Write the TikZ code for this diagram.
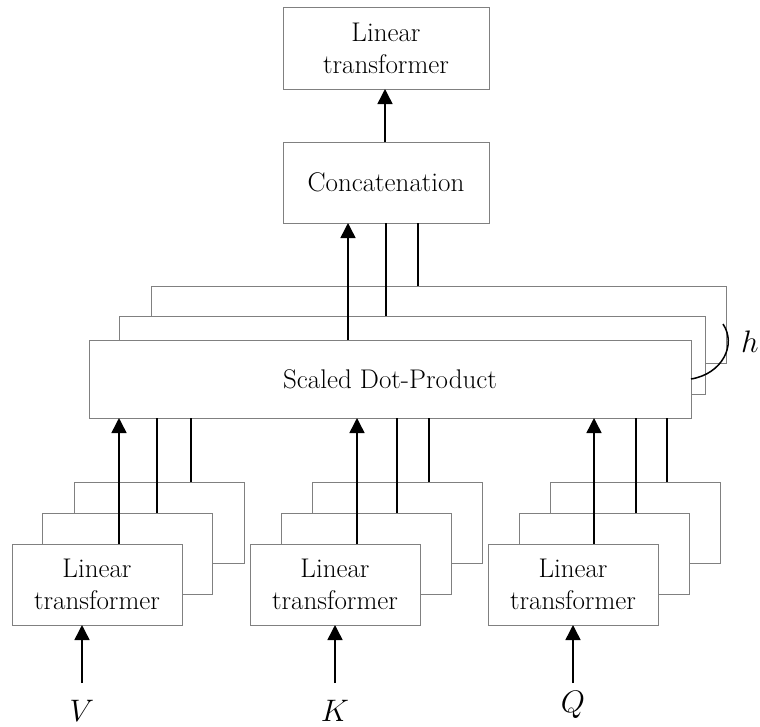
\documentclass[tikz,border=0pt]{standalone}
\usepackage{graphicx}
\usetikzlibrary{arrows.meta}
\newcommand{\biglbl}[1]{\scalebox{1.25}{$#1$}}
\begin{document}
\begin{tikzpicture}[x=1pt,y=-1pt,
  box/.style={draw=black!50,line width=1pt,fill=white,rectangle,inner sep=0pt,outer sep=0pt,anchor=north west,align=center,font=\fontsize{27}{32}\selectfont},
  ltbox/.style={box,minimum width=170pt,minimum height=81pt},
  conn/.style={line width=1.5pt,black},
  arr/.style={conn,-{Triangle[width=15pt,length=15pt]}},
  lbl/.style={anchor=base,font=\fontsize{24.88}{26}\selectfont}]
\useasboundingbox (0,0) rectangle (760,726);
% top boxes
\node[box,minimum width=206pt,minimum height=82pt] (top) at (283,7) {Linear\\transformer};
\node[box,minimum width=206pt,minimum height=81pt] (cat) at (283,142) {Concatenation};
% scaled dot-product stack
\node[box,minimum width=575pt,minimum height=77pt] (s3) at (151,286) {};
\node[box,minimum width=586pt,minimum height=78pt] (s2) at (119,316) {};
\node[box,minimum width=602pt,minimum height=78pt] (s1) at (89,340) {Scaled Dot-Product};
% V stack
\node[ltbox] (v3) at (74,482) {};
\node[ltbox] (v2) at (42,513) {};
\node[ltbox] (v1) at (12,544) {Linear\\transformer};
% K stack
\node[ltbox] (k3) at (312,482) {};
\node[ltbox] (k2) at (281,513) {};
\node[ltbox] (k1) at (250,544) {Linear\\transformer};
% Q stack
\node[ltbox] (q3) at (550,482) {};
\node[ltbox] (q2) at (519,513) {};
\node[ltbox] (q1) at (488,544) {Linear\\transformer};
% inputs
\node[lbl] (V) at (82,721) {\biglbl{V}};
\node[lbl] (K) at (335,721) {\biglbl{K}};
\node[lbl] (Q) at (573,712) {\biglbl{Q}};
\node[lbl] (h) at (750,352) {\biglbl{h}};
\coordinate (vin) at (82,683);
\coordinate (kin) at (335,683);
\coordinate (qin) at (573,683);
% input arrows
\draw[arr] (vin) -- (vin |- v1.south);
\draw[arr] (kin) -- (kin |- k1.south);
\draw[arr] (qin) -- (qin |- q1.south);
% into scaled dot-product
\draw[arr] (v1.north -| 119,0) -- (s1.south -| 119,0);
\draw[conn] (v2.north -| 157,0) -- (s1.south -| 157,0);
\draw[conn] (v3.north -| 191,0) -- (s1.south -| 191,0);
\draw[arr] (k1.north -| 357,0) -- (s1.south -| 357,0);
\draw[conn] (k2.north -| 397,0) -- (s1.south -| 397,0);
\draw[conn] (k3.north -| 429,0) -- (s1.south -| 429,0);
\draw[arr] (q1.north -| 594,0) -- (s1.south -| 594,0);
\draw[conn] (q2.north -| 636,0) -- (s1.south -| 636,0);
\draw[conn] (q3.north -| 667,0) -- (s1.south -| 667,0);
% into concatenation
\draw[arr] (s1.north -| 348,0) -- (cat.south -| 348,0);
\draw[conn] (s2.north -| 386,0) -- (cat.south -| 386,0);
\draw[conn] (s3.north -| 418,0) -- (cat.south -| 418,0);
% to top
\draw[arr] (cat.north -| 385,0) -- (top.south -| 385,0);
% h bracket
\draw[conn] (s1.east |- 0,379) .. controls (722,374) and (737,345) .. (723,324);
\end{tikzpicture}
\end{document}
